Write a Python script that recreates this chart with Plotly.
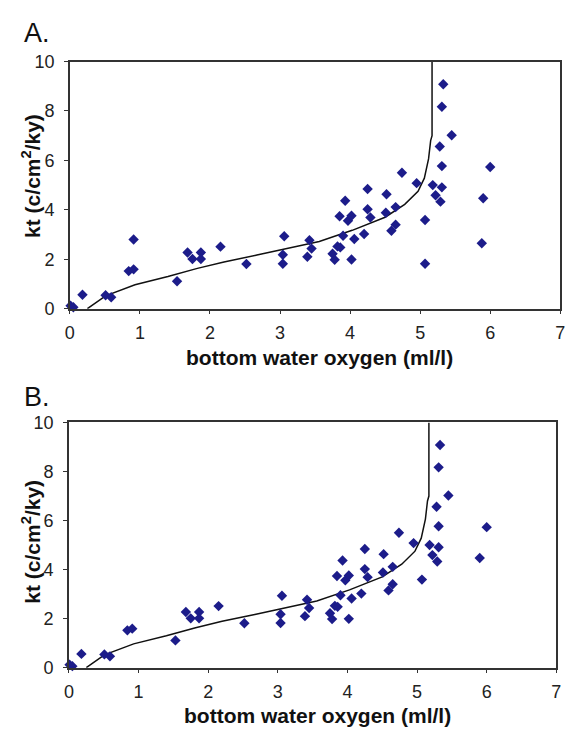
import plotly.graph_objects as go

# Panel A observations: bottom water oxygen (ml/l) vs kt (c/cm2/ky)
oxygen_a = [0.01, 0.05, 0.18, 0.51, 0.59, 0.84, 0.91, 0.91, 1.53, 1.68, 1.75, 1.87, 1.87,
            2.15, 2.52, 3.04, 3.04, 3.06, 3.39, 3.42, 3.45, 3.75, 3.78, 3.82, 3.86, 3.85,
            3.90, 3.93, 3.97, 4.02, 4.02, 4.06, 4.20, 4.25, 4.25, 4.29, 4.51, 4.52, 4.59,
            4.65, 4.65, 4.74, 4.95, 5.07, 5.07, 5.18, 5.22, 5.28, 5.29, 5.31, 5.31, 5.31,
            5.33, 5.45, 5.88, 5.90, 6.00]
kt_a = [0.12, 0.06, 0.56, 0.54, 0.46, 1.52, 1.59, 2.80, 1.11, 2.27, 2.01, 2.27, 2.01,
        2.51, 1.81, 1.82, 2.18, 2.93, 2.10, 2.77, 2.43, 2.22, 1.98, 2.52, 2.48, 3.74,
        2.95, 4.37, 3.56, 3.76, 1.99, 2.82, 3.02, 4.84, 4.02, 3.69, 3.88, 4.63, 3.15,
        4.11, 3.40, 5.50, 5.08, 3.59, 1.82, 5.00, 4.59, 6.56, 4.33, 4.91, 5.77, 8.17,
        9.08, 7.02, 2.65, 4.47, 5.73]

# Panel B observations (same set without three outliers)
oxygen_b = [0.01, 0.05, 0.18, 0.51, 0.59, 0.84, 0.91, 1.53, 1.68, 1.75, 1.87, 1.87,
            2.15, 2.52, 3.04, 3.04, 3.06, 3.39, 3.42, 3.45, 3.75, 3.78, 3.82, 3.86, 3.85,
            3.90, 3.93, 3.97, 4.02, 4.02, 4.06, 4.20, 4.25, 4.25, 4.29, 4.51, 4.52, 4.59,
            4.65, 4.65, 4.74, 4.95, 5.07, 5.18, 5.22, 5.28, 5.29, 5.31, 5.31, 5.31,
            5.33, 5.45, 5.90, 6.00]
kt_b = [0.12, 0.06, 0.56, 0.54, 0.46, 1.52, 1.59, 1.11, 2.27, 2.01, 2.27, 2.01,
        2.51, 1.81, 1.82, 2.18, 2.93, 2.10, 2.77, 2.43, 2.22, 1.98, 2.52, 2.48, 3.74,
        2.95, 4.37, 3.56, 3.76, 1.99, 2.82, 3.02, 4.84, 4.02, 3.69, 3.88, 4.63, 3.15,
        4.11, 3.40, 5.50, 5.08, 3.59, 5.00, 4.59, 6.56, 4.33, 4.91, 5.77, 8.17,
        9.08, 7.02, 4.47, 5.73]

# Fitted curve
curve_x = [0.25, 0.51, 0.93, 1.40, 1.82, 2.20, 2.67, 3.14, 3.56, 4.03, 4.50, 4.78,
           4.97, 5.06, 5.12, 5.15, 5.17, 5.17]
curve_y = [0.0, 0.52, 0.97, 1.30, 1.63, 1.89, 2.17, 2.45, 2.72, 3.17, 3.70, 4.22,
           4.75, 5.28, 6.06, 6.80, 7.0, 10.0]

x_ticks = [0, 1, 2, 3, 4, 5, 6, 7]
y_ticks = [0, 2, 4, 6, 8, 10]
panel_labels = ["A.", "B."]
x_title = "bottom water oxygen (ml/l)"
y_title = "kt (c/cm<sup>2</sup>/ky)"

W, H = 580, 736
FONT = "Liberation Sans, Arial, sans-serif"
MARK = "#1c1c8a"
AXC = "#333333"
TXT = "#111111"

fig = go.Figure()

for i, (xs, ys) in enumerate([(oxygen_a, kt_a), (oxygen_b, kt_b)]):
    sx = "" if i == 0 else "2"
    fig.add_trace(go.Scatter(x=curve_x, y=curve_y, mode="lines",
                             line=dict(color="#111111", width=1.5),
                             xaxis="x" + sx, yaxis="y" + sx, showlegend=False,
                             hoverinfo="skip"))
    fig.add_trace(go.Scatter(x=xs, y=ys, mode="markers",
                             marker=dict(symbol="diamond", size=8, color=MARK),
                             xaxis="x" + sx, yaxis="y" + sx, showlegend=False,
                             cliponaxis=False))

def px_dom(a, b):
    return [a / W, b / W]

def py_dom(top, bottom):
    return [1 - bottom / H, 1 - top / H]

axis_common = dict(showline=True, linecolor=AXC, linewidth=1.5, mirror=True,
                   ticks="outside", ticklen=4, tickwidth=1, tickcolor=AXC,
                   showgrid=False, zeroline=False,
                   tickfont=dict(family=FONT, size=18, color="#222222"))

fig.update_layout(
    width=W, height=H, margin=dict(l=0, r=0, t=0, b=0),
    paper_bgcolor="white", plot_bgcolor="white",
    xaxis=dict(domain=px_dom(66, 565), range=[0, 7], tickvals=x_ticks, anchor="y",
               ticklabelstandoff=3, **axis_common),
    yaxis=dict(domain=py_dom(53, 307), range=[0, 10], tickvals=y_ticks, anchor="x",
               ticklabelstandoff=6, **axis_common),
    xaxis2=dict(domain=px_dom(65, 561), range=[0, 7], tickvals=x_ticks, anchor="y2",
                ticklabelstandoff=3, **axis_common),
    yaxis2=dict(domain=py_dom(424, 676), range=[0, 10], tickvals=y_ticks, anchor="x2",
                ticklabelstandoff=6, **axis_common),
)

def ann(text, x, y, size, angle=0, bold=False, xanchor="center"):
    fig.add_annotation(text=("<b>%s</b>" % text) if bold else text,
                       x=x / W, y=1 - y / H, xref="paper", yref="paper",
                       xanchor=xanchor, yanchor="middle", showarrow=False,
                       textangle=angle, font=dict(family=FONT, size=size, color=TXT))

ann(panel_labels[0], 17, 24, 27, xanchor="left")
ann(panel_labels[1], 17, 398, 27, xanchor="left")
ann(x_title, 320, 357, 21, bold=True)
ann(x_title, 318, 725, 21, bold=True)
ann(y_title, 27, 171, 21, angle=-90, bold=True)
ann(y_title, 27, 547, 21, angle=-90, bold=True)

fig.write_html("out.html")
